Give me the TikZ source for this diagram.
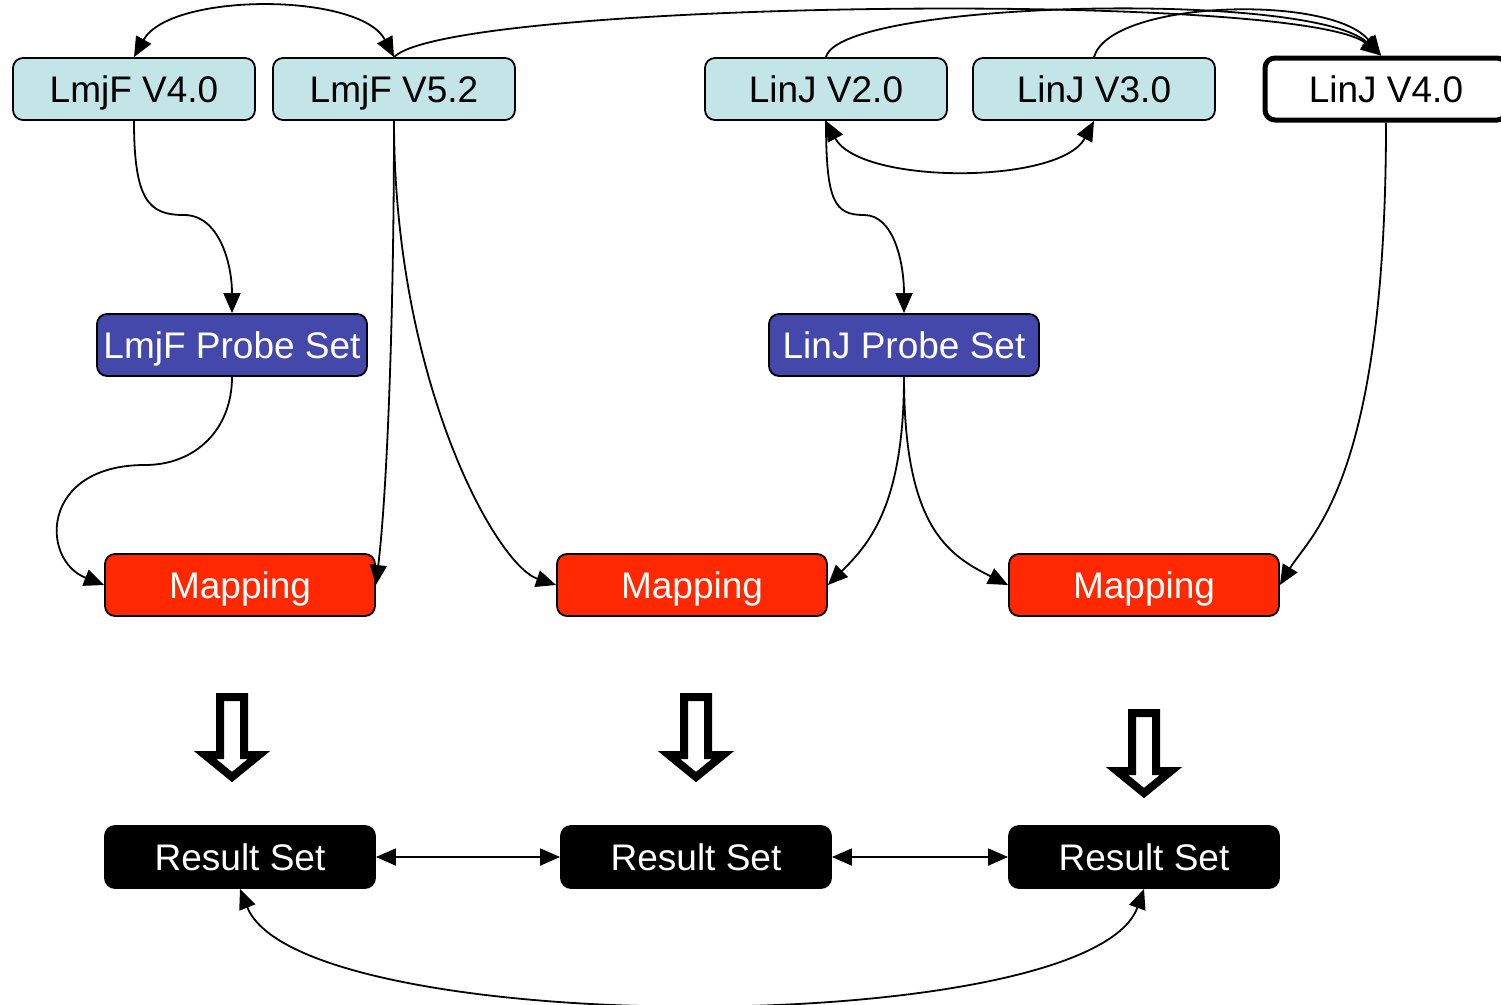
\documentclass[tikz,border=0pt]{standalone}
\usepackage{fontspec}
\setmainfont{Liberation Sans}
\usetikzlibrary{arrows.meta}
\definecolor{verbox}{HTML}{C3E5E7}
\definecolor{probeblue}{HTML}{4448AA}
\definecolor{mapred}{HTML}{FF2800}
% hollow block arrow pointing down: #1 = centre x, #2 = top of the shaft
\newcommand\hollowdown[2]{%
  \draw[hollow] (#1-12,#2) -- (#1+12,#2) -- (#1+12,#2+58) -- (#1+27,#2+58)
    -- (#1,#2+80) -- (#1-27,#2+58) -- (#1-12,#2+58) -- cycle;}
\begin{document}
\begin{tikzpicture}[x=1pt,y=-1pt,
  arrowhd/.tip={Triangle[length=20pt,width=17pt]},
  box/.style={draw=black, line width=1.8pt, rounded corners=10pt,
    minimum width=242pt, minimum height=62pt, inner sep=0pt,
    text height=26.5pt, text depth=0pt,
    font=\fontsize{37}{44}\selectfont},
  version/.style={box, fill=verbox},
  wide/.style={box, minimum width=270pt},
  probe/.style={wide, fill=probeblue, text=white},
  mapping/.style={wide, fill=mapred, text=white},
  result/.style={wide, fill=black, text=white},
  link/.style={line width=1.8pt, -arrowhd},
  both/.style={line width=1.8pt, arrowhd-arrowhd},
  hollow/.style={draw=black, fill=white, line width=8pt, miter limit=10}]

\useasboundingbox (0,0) rectangle (1501,1004);
\fill[white] (0,0) rectangle (1501,1004);

% genome versions
\node[version] (f4) at (134,89) {LmjF V4.0};
\node[version] (f5) at (394,89) {LmjF V5.2};
\node[version] (j2) at (826,89) {LinJ V2.0};
\node[version] (j3) at (1094,89) {LinJ V3.0};
\node[box, fill=white, line width=5pt] (j4) at (1386,89) {LinJ V4.0};

% probe sets
\node[probe] (fp) at (232,345) {LmjF Probe Set};
\node[probe] (jp) at (904,345) {LinJ Probe Set};

% mappings
\node[mapping] (m1) at (240,585) {Mapping};
\node[mapping] (m2) at (692,585) {Mapping};
\node[mapping] (m3) at (1144,585) {Mapping};

% results
\node[result] (r1) at (240,857) {Result Set};
\node[result] (r2) at (696,857) {Result Set};
\node[result] (r3) at (1144,857) {Result Set};

% bend points of the S-shaped connectors
\coordinate (k1) at (184,215);
\coordinate (k2) at (864,215);
\coordinate (k3) at (145,465);

% version links along the top
\draw[both] (f4.north) .. controls +(36,-65) and +(-34,-65) .. (f5.north);
\draw[link] (f5.north) .. controls +(56,-57) and +(-80,-65) .. ([xshift=-5pt]j4.north);
\draw[link] (j2.north) .. controls +(14,-57) and +(-70,-65) .. ([xshift=-5pt]j4.north);
\draw[link] (j3.north) .. controls +(16,-57) and +(-50,-62) .. ([xshift=-5pt]j4.north);
\draw[both] (j2.south) .. controls +(34,64) and +(-34,64) .. (j3.south);

% versions to probe sets
\draw[link] (f4.south) .. controls +(0,80) and +(-35,0) .. (k1)
  .. controls +(35,0) and +(0,-50) .. (fp.north);
\draw[link] (j2.south) .. controls +(0,80) and +(-30,0) .. (k2)
  .. controls +(30,0) and +(0,-50) .. (jp.north);

% inputs of the mappings
\draw[link] (fp.south) .. controls +(0,53) and +(50,0) .. (k3)
  .. controls +(-105,0) and +(-64,-25) .. (m1.west);
\draw[link] (f5.south) .. controls +(0,180) and +(12,-100) .. (m1.east);
\draw[link] (f5.south) .. controls +(0,260) and +(-60,-20) .. (m2.west);
\draw[link] (jp.south) .. controls +(0,130) and +(40,-40) .. (m2.east);
\draw[link] (jp.south) .. controls +(0,150) and +(-60,-30) .. (m3.west);
\draw[link] (j4.south) .. controls +(0,360) and +(30,-50) .. (m3.east);

% block arrows from mappings to results
\hollowdown{232}{697}
\hollowdown{696}{697}
\hollowdown{1144}{713}

% comparisons between result sets
\draw[both] (r1.east) -- (r2.west);
\draw[both] (r2.east) -- (r3.west);
\draw[both] (r1.south) .. controls +(60,151) and +(-54,151) .. (r3.south);
\end{tikzpicture}
\end{document}
